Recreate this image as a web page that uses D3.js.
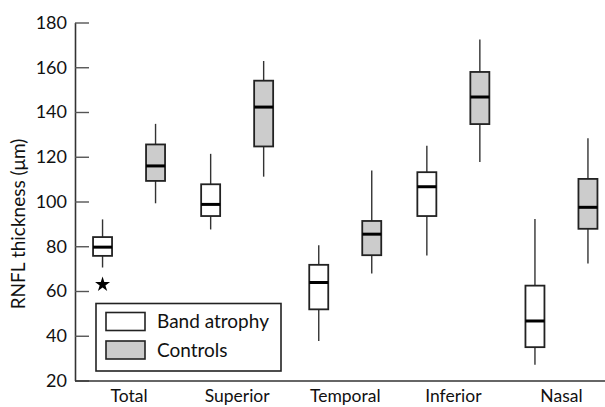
<!DOCTYPE html>
<html>
<head>
<meta charset="utf-8">
<script src="https://cdn.jsdelivr.net/npm/d3@7"></script>
<style>
body { margin: 0; background: #fff; }
svg { display: block; }
text { font-family: Lato, "Noto Sans", sans-serif; fill: #111; }
</style>
</head>
<body>
<svg id="chart" width="605" height="407"></svg>
<script>
const categories = ["Total", "Superior", "Temporal", "Inferior", "Nasal"];
const seriesNames = ["Band atrophy", "Controls"];
// [whiskerLow, q1, median, q3, whiskerHigh]
const bandAtrophy = [
  [70.5, 75.7, 79.6, 84.1, 92.0],
  [87.5, 93.5, 98.7, 107.7, 121.3],
  [37.6, 51.8, 63.8, 71.7, 80.5],
  [75.9, 93.5, 106.6, 113.1, 124.9],
  [27.0, 34.9, 46.6, 62.4, 92.2]
];
const controls = [
  [99.2, 109.2, 115.9, 125.5, 134.7],
  [111.1, 124.6, 142.2, 154.0, 162.8],
  [67.8, 76.0, 85.4, 91.3, 113.8],
  [117.6, 134.6, 146.7, 157.9, 172.4],
  [72.3, 87.8, 97.4, 110.1, 128.3]
];
const outliers = [{ category: "Total", series: "Band atrophy", value: 62.9 }];
const yTicks = [20, 40, 60, 80, 100, 120, 140, 160, 180];
const fills = { "Band atrophy": "#ffffff", "Controls": "#cccccc" };

const svg = d3.select("#chart");
const x = d3.scaleBand().domain(categories).range([75, 615.5]).padding(0);
const xs = d3.scalePoint().domain(seriesNames).range([-26.5, 26.5]);
const y = d3.scaleLinear().domain([20, 180]).range([380.5, 22.5]);
const boxW = 19;

// Y axis
const yAxis = d3.axisLeft(y).tickValues(yTicks).tickSizeInner(-14).tickSizeOuter(0).tickPadding(8);
const gy = svg.append("g").attr("transform", "translate(75,0)").call(yAxis);
gy.select(".domain").attr("stroke", "#333").attr("stroke-width", 1.6);
gy.selectAll(".tick line").attr("stroke", "#555").attr("stroke-width", 1.4);
gy.selectAll(".tick text").style("font-size", "18px").style("font-family", "Lato, sans-serif").attr("fill", "#111");

// X axis line
svg.append("line").attr("x1", 75).attr("x2", 605).attr("y1", 381).attr("y2", 381)
  .attr("stroke", "#333").attr("stroke-width", 1.6);

// Category labels
svg.append("g").selectAll("text").data(categories).join("text")
  .attr("x", d => x(d) + x.bandwidth() / 2)
  .attr("y", 402)
  .attr("text-anchor", "middle")
  .style("font-size", "17.5px")
  .text(d => d);

// Y title
svg.append("text")
  .attr("transform", "translate(25,224) rotate(-90)")
  .attr("text-anchor", "middle")
  .style("font-size", "19px")
  .text("RNFL thickness (μm)");

// Boxes
const boxes = [];
categories.forEach((c, i) => {
  boxes.push({ c, s: "Band atrophy", v: bandAtrophy[i] });
  boxes.push({ c, s: "Controls", v: controls[i] });
});
const gb = svg.append("g").selectAll("g").data(boxes).join("g")
  .attr("transform", d => `translate(${x(d.c) + x.bandwidth() / 2 + xs(d.s)},0)`);
gb.append("line").attr("x1", 0).attr("x2", 0)
  .attr("y1", d => y(d.v[4])).attr("y2", d => y(d.v[3]))
  .attr("stroke", "#333").attr("stroke-width", 1.4);
gb.append("line").attr("x1", 0).attr("x2", 0)
  .attr("y1", d => y(d.v[1])).attr("y2", d => y(d.v[0]))
  .attr("stroke", "#333").attr("stroke-width", 1.4);
gb.append("rect")
  .attr("x", -boxW / 2).attr("width", boxW)
  .attr("y", d => y(d.v[3])).attr("height", d => y(d.v[1]) - y(d.v[3]))
  .attr("fill", d => fills[d.s]).attr("stroke", "#222").attr("stroke-width", 1.8);
gb.append("line").attr("x1", -boxW / 2).attr("x2", boxW / 2)
  .attr("y1", d => y(d.v[2])).attr("y2", d => y(d.v[2]))
  .attr("stroke", "#000").attr("stroke-width", 3);

// Outliers
svg.append("g").selectAll("path").data(outliers).join("path")
  .attr("transform", d => `translate(${x(d.category) + x.bandwidth() / 2 + xs(d.series)},${y(d.value)})`)
  .attr("d", d3.symbol(d3.symbolStar, 70))
  .attr("fill", "#000");

// Legend
const lg = svg.append("g");
lg.append("rect").attr("x", 96).attr("y", 303.5).attr("width", 185).attr("height", 67.5)
  .attr("fill", "#fff").attr("stroke", "#222").attr("stroke-width", 1.6);
seriesNames.forEach((s, i) => {
  lg.append("rect").attr("x", 106).attr("y", 312.5 + i * 28.5).attr("width", 39).attr("height", 18)
    .attr("fill", fills[s]).attr("stroke", "#222").attr("stroke-width", 1.6);
  lg.append("text").attr("x", 157).attr("y", 328 + i * 28.5)
    .style("font-size", "19px").text(s);
});
</script>
</body>
</html>
